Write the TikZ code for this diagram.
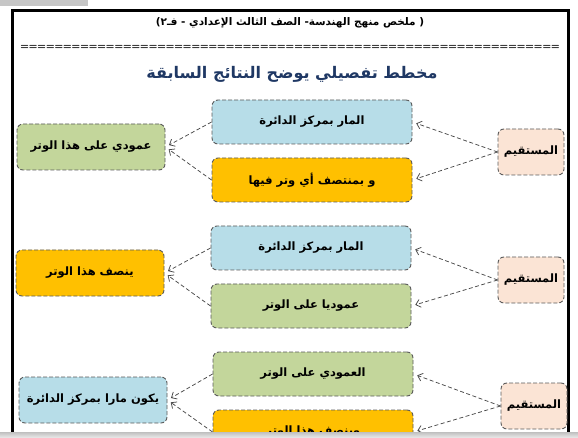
\documentclass[tikz,border=0pt]{standalone}
\usepackage{fontspec}
\usetikzlibrary{arrows.meta}
\newfontfamily\arabicfont[Script=Arabic]{DejaVu Sans}
\TeXXeTstate=1
\newcommand{\artxt}[1]{\beginR #1\endR}
\definecolor{boxblue}{HTML}{B7DDE8}
\definecolor{boxorange}{HTML}{FFC000}
\definecolor{boxgreen}{HTML}{C3D69B}
\definecolor{boxpeach}{HTML}{FBE4D5}
\definecolor{titleblue}{HTML}{1F3864}
\definecolor{edgegray}{HTML}{5A5A5A}

\begin{document}
\begin{tikzpicture}[x=1pt, y=-1pt,
  >={Straight Barb[length=4.5pt,width=8pt]},
  box/.style={
    draw=edgegray,
    dash pattern=on 4pt off 2pt,
    line width=0.9pt,
    rounded corners=6pt,
    inner sep=2pt,
    font=\arabicfont\bfseries\fontsize{11.5}{13}\selectfont
  },
  midbox/.style={box, minimum width=200pt, minimum height=44pt},
  sidebox/.style={box, minimum width=148pt, minimum height=46pt},
  endbox/.style={box, fill=boxpeach, minimum width=66pt, minimum height=46pt},
  link/.style={
    ->,
    dash pattern=on 4pt off 2.5pt,
    draw=edgegray!80!black,
    line width=0.75pt,
    shorten >=4pt
  }]

\useasboundingbox (0,0) rectangle (578,438);

% Rahmen
\fill[gray!45] (0,0) rectangle (88,6);
\draw[line width=3pt, black] (12,440) -- (12,11) -- (568,11) -- (568,440);

% Titel
\node[font=\arabicfont\bfseries\fontsize{10.5}{12}\selectfont] (head) at (290,23)
  {)\artxt{ملخص منهج الهندسة- الصف الثالث الإعدادي - فـ٢} (};
\node[inner sep=0pt] (rule) at (290,47)
  {\hbox to 542pt{\cleaders\hbox{\sffamily\bfseries=}\hfill}};
\node[font=\arabicfont\bfseries\fontsize{16}{18}\selectfont, text=titleblue] (sub) at (292,74)
  {\artxt{مخطط تفصيلي يوضح النتائج السابقة}};

% Gruppe 1
\node[endbox] (s1) at (531,152) {\artxt{المستقيم}};
\node[midbox, fill=boxblue] (b1) at (312,122) {\artxt{المار بمركز الدائرة}};
\node[midbox, fill=boxorange] (o1) at (312,180) {\artxt{و بمنتصف أي وتر فيها}};
\node[sidebox, fill=boxgreen] (g1) at (91,147) {\artxt{عمودي على هذا الوتر}};

\draw[link] (s1.west) -- (b1.east);
\draw[link] (s1.west) -- (o1.east);
\draw[link] (b1.west) -- (g1.east);
\draw[link] (o1.west) -- (g1.east);

% Gruppe 2
\node[endbox] (s2) at (531,280) {\artxt{المستقيم}};
\node[midbox, fill=boxblue] (b2) at (311,248) {\artxt{المار بمركز الدائرة}};
\node[midbox, fill=boxgreen] (g2) at (311,306) {\artxt{عموديا على الوتر}};
\node[sidebox, fill=boxorange] (o2) at (90,273) {\artxt{ينصف هذا الوتر}};

\draw[link] (s2.west) -- (b2.east);
\draw[link] (s2.west) -- (g2.east);
\draw[link] (b2.west) -- (o2.east);
\draw[link] (g2.west) -- (o2.east);

% Gruppe 3
\node[endbox] (s3) at (534,406) {\artxt{المستقيم}};
\node[midbox, fill=boxgreen] (g3) at (313,374) {\artxt{العمودي على الوتر}};
\node[midbox, fill=boxorange] (o3) at (313,432) {\artxt{وينصف هذا الوتر}};
\node[sidebox, fill=boxblue] (b3) at (93,400) {\artxt{يكون مارا بمركز الدائرة}};

\draw[link] (s3.west) -- (g3.east);
\draw[link] (s3.west) -- (o3.east);
\draw[link] (g3.west) -- (b3.east);
\draw[link] (o3.west) -- (b3.east);

% Schatten unten
\shade[top color=gray!50, bottom color=gray!15] (0,432) rectangle (578,438);

\end{tikzpicture}
\end{document}
